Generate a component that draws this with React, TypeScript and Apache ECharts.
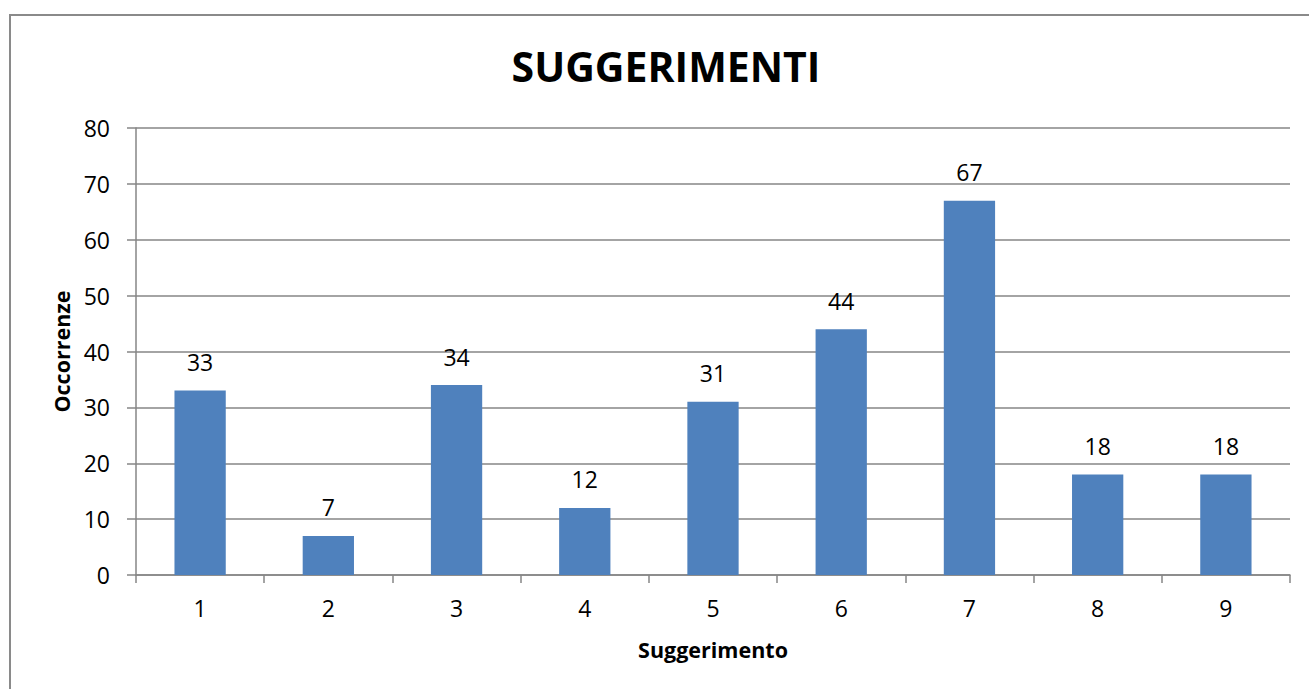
import React, { useEffect, useRef } from "react";
import * as echarts from "echarts";

const categories = ["1", "2", "3", "4", "5", "6", "7", "8", "9"];
const occorrenze = [33, 7, 34, 12, 31, 44, 67, 18, 18];
const yTicks = { min: 0, max: 80, interval: 10 };

const FONT = "'Open Sans', sans-serif";
const GRAY = "#868686";

export default function App() {
  const ref = useRef<HTMLDivElement>(null);
  useEffect(() => {
    if (!ref.current) return;
    const chart = echarts.init(ref.current, undefined, { renderer: "svg" });
    chart.setOption({
      animation: false,
      backgroundColor: "#ffffff",
      title: {
        text: "SUGGERIMENTI",
        left: 661,
        top: 40,
        textAlign: "center",
        textStyle: { fontFamily: FONT, fontWeight: "bold", fontSize: 41, color: "#000" },
      },
      graphic: [
        {
          type: "rect",
          shape: { x: 10, y: 15, width: 1400, height: 800 },
          style: { fill: "none", stroke: "#8a8a8a", lineWidth: 2 },
          silent: true,
        },
      ],
      grid: { left: 136, right: 19, top: 128, bottom: 114, containLabel: false },
      xAxis: {
        type: "category",
        data: categories,
        name: "Suggerimento",
        nameLocation: "middle",
        nameGap: 63,
        nameTextStyle: { fontFamily: FONT, fontWeight: "bold", fontSize: 21.5, color: "#000" },
        axisLine: { lineStyle: { color: GRAY, width: 1.5 } },
        axisTick: { show: true, length: 8, alignWithLabel: false, lineStyle: { color: GRAY, width: 1.5 } },
        axisLabel: { fontFamily: FONT, fontSize: 23, color: "#000", margin: 21 },
        splitLine: { show: false },
      },
      yAxis: {
        type: "value",
        min: yTicks.min,
        max: yTicks.max,
        interval: yTicks.interval,
        name: "Occorrenze",
        nameLocation: "middle",
        nameGap: 64,
        nameTextStyle: { fontFamily: FONT, fontWeight: "bold", fontSize: 21.5, color: "#000" },
        axisLine: { show: true, lineStyle: { color: GRAY, width: 1.5 } },
        axisTick: { show: true, length: 9, lineStyle: { color: GRAY, width: 1.5 } },
        axisLabel: { fontFamily: FONT, fontSize: 23, color: "#000", margin: 26 },
        splitLine: { show: true, lineStyle: { color: GRAY, width: 1.5 } },
      },
      series: [
        {
          type: "bar",
          data: occorrenze,
          barWidth: "40%",
          itemStyle: { color: "#4F81BD" },
          label: {
            show: true,
            position: "top",
            distance: 17,
            fontFamily: FONT,
            fontSize: 23,
            color: "#000",
          },
        },
      ],
    });
    return () => chart.dispose();
  }, []);
  return (
    <div
      ref={ref}
      style={{ position: "absolute", left: 0, top: 0, width: 1309, height: 689 }}
    />
  );
}
